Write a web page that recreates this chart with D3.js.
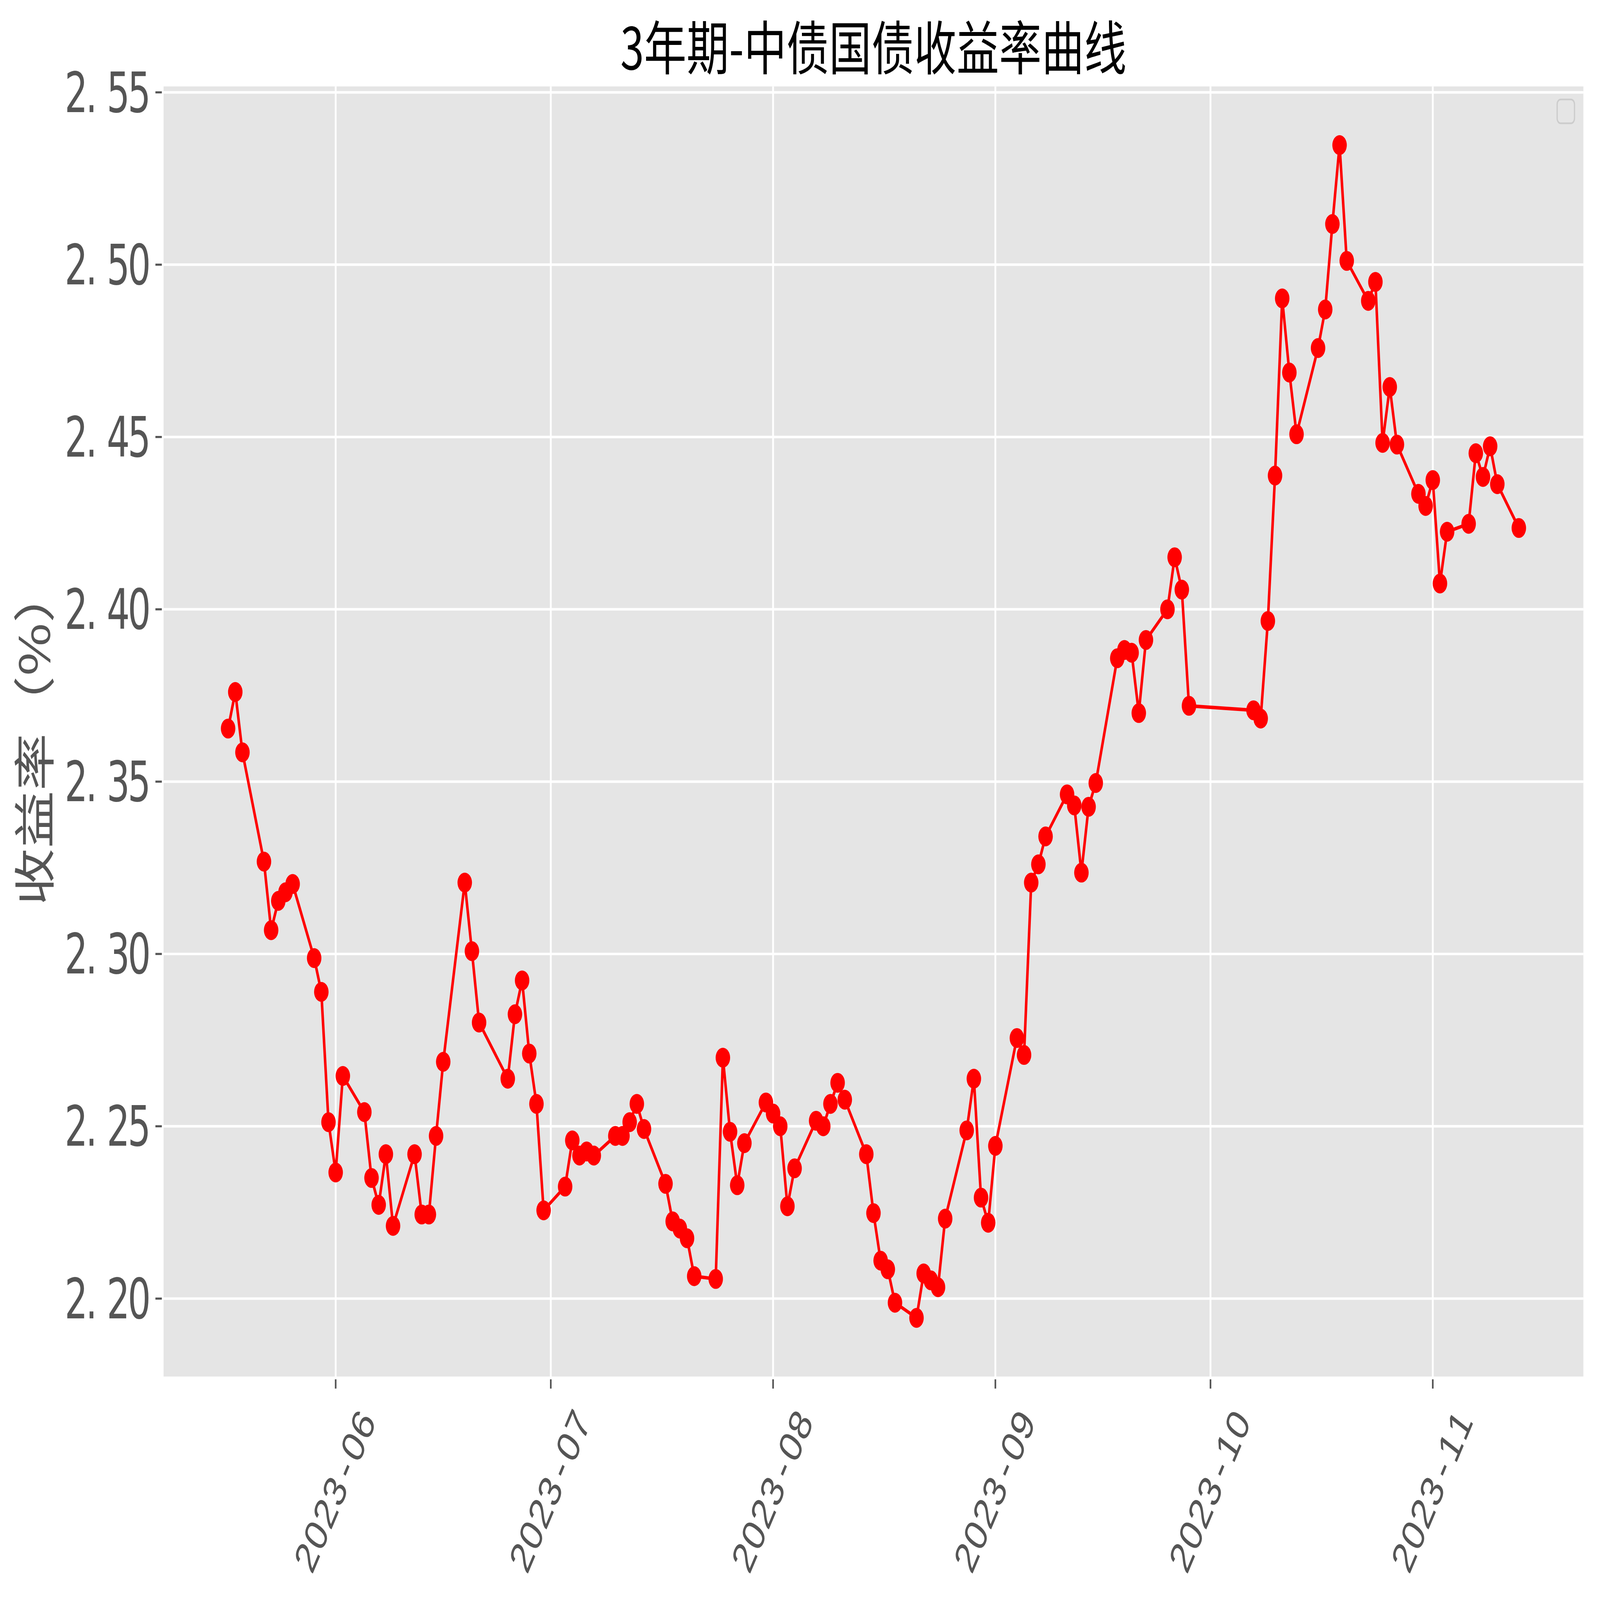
<!DOCTYPE html>
<html lang="zh">
<meta charset="utf-8">
<style>
html, body { margin: 0; padding: 0; width: 100%; height: 100%; background: #fff; overflow: hidden; }
#chart { width: 100%; height: 100%; }
#chart svg { display: block; width: 100%; height: 100%; }
.tick-label { font-family: "Liberation Sans Narrow", "DejaVu Sans Condensed", sans-serif; fill: #555555; }
.xlab { font-family: "Liberation Sans", "DejaVu Sans", sans-serif; fill: #555555; }
.cjk { font-family: "Noto Sans CJK SC", "Noto Sans", sans-serif; }
</style>
<body>
<div id="chart"></div>
<script src="https://d3js.org/d3.v7.min.js"></script>
<script>
"use strict";

// trading days, 2023 (incl. the 6-25 / 10-07 / 10-08 adjusted workdays)
const dates = [
  "2023-05-17","2023-05-18","2023-05-19","2023-05-22","2023-05-23","2023-05-24","2023-05-25","2023-05-26","2023-05-29","2023-05-30","2023-05-31",
  "2023-06-01","2023-06-02","2023-06-05","2023-06-06","2023-06-07","2023-06-08","2023-06-09","2023-06-12","2023-06-13","2023-06-14","2023-06-15","2023-06-16","2023-06-19","2023-06-20","2023-06-21","2023-06-25","2023-06-26","2023-06-27","2023-06-28","2023-06-29","2023-06-30",
  "2023-07-03","2023-07-04","2023-07-05","2023-07-06","2023-07-07","2023-07-10","2023-07-11","2023-07-12","2023-07-13","2023-07-14","2023-07-17","2023-07-18","2023-07-19","2023-07-20","2023-07-21","2023-07-24","2023-07-25","2023-07-26","2023-07-27","2023-07-28","2023-07-31",
  "2023-08-01","2023-08-02","2023-08-03","2023-08-04","2023-08-07","2023-08-08","2023-08-09","2023-08-10","2023-08-11","2023-08-14","2023-08-15","2023-08-16","2023-08-17","2023-08-18","2023-08-21","2023-08-22","2023-08-23","2023-08-24","2023-08-25","2023-08-28","2023-08-29","2023-08-30","2023-08-31",
  "2023-09-01","2023-09-04","2023-09-05","2023-09-06","2023-09-07","2023-09-08","2023-09-11","2023-09-12","2023-09-13","2023-09-14","2023-09-15","2023-09-18","2023-09-19","2023-09-20","2023-09-21","2023-09-22","2023-09-25","2023-09-26","2023-09-27","2023-09-28",
  "2023-10-07","2023-10-08","2023-10-09","2023-10-10","2023-10-11","2023-10-12","2023-10-13","2023-10-16","2023-10-17","2023-10-18","2023-10-19","2023-10-20","2023-10-23","2023-10-24","2023-10-25","2023-10-26","2023-10-27","2023-10-30","2023-10-31",
  "2023-11-01","2023-11-02","2023-11-03","2023-11-06","2023-11-07","2023-11-08","2023-11-09","2023-11-10","2023-11-13"
];

const yields = [
  2.3654, 2.3760, 2.3585, 2.3268, 2.3069, 2.3154, 2.3179, 2.3203, 2.2988, 2.2890, 2.2512,
  2.2366, 2.2646, 2.2541, 2.2350, 2.2272, 2.2419, 2.2211, 2.2419, 2.2244, 2.2244, 2.2472, 2.2687, 2.3207, 2.3008, 2.2801, 2.2638, 2.2825, 2.2923, 2.2711, 2.2565, 2.2256,
  2.2325, 2.2459, 2.2415, 2.2427, 2.2415, 2.2472, 2.2472, 2.2512, 2.2565, 2.2492, 2.2333, 2.2224, 2.2203, 2.2175, 2.2065, 2.2057, 2.2699, 2.2484, 2.2329, 2.2451, 2.2569,
  2.2537, 2.2500, 2.2268, 2.2378, 2.2516, 2.2500, 2.2565, 2.2626, 2.2577, 2.2419, 2.2248, 2.2110, 2.2085, 2.1988, 2.1944, 2.2073, 2.2053, 2.2033, 2.2232, 2.2488, 2.2638, 2.2293, 2.2220,
  2.2443, 2.2756, 2.2707, 2.3207, 2.3260, 2.3341, 2.3463, 2.3431, 2.3236, 2.3427, 2.3496, 2.3858, 2.3882, 2.3874, 2.3699, 2.3911, 2.4000, 2.4151, 2.4057, 2.3720,
  2.3707, 2.3683, 2.3966, 2.4388, 2.4902, 2.4687, 2.4508, 2.4758, 2.4870, 2.5118, 2.5347, 2.5011, 2.4895, 2.4950, 2.4483, 2.4645, 2.4478, 2.4335, 2.4300,
  2.4375, 2.4075, 2.4225, 2.4248, 2.4453, 2.4384, 2.4473, 2.4363, 2.4236
];

const monthTicks = ["2023-06-01","2023-07-01","2023-08-01","2023-09-01","2023-10-01","2023-11-01"];
const monthLabels = ["2023-06","2023-07","2023-08","2023-09","2023-10","2023-11"];
const yTicks = [2.20, 2.25, 2.30, 2.35, 2.40, 2.45, 2.50, 2.55];
const yTickLabels = ["2.20","2.25","2.30","2.35","2.40","2.45","2.50","2.55"];

const titleText = "3年期-中债国债收益率曲线";
const yAxisText = "收益率（%）";

// drawn in a 1568 x 1142 box, scaled to fill the window
const W = 1568, H = 1142;
const plot = {left: 160.3, right: 1551.7, top: 61.7, bottom: 982.5};

const parse = d3.timeParse("%Y-%m-%d");
const data = dates.map((d, i) => ({date: parse(d), value: yields[i]}));

const svg = d3.select("#chart").append("svg")
    .attr("viewBox", "0 0 " + W + " " + H)
    .attr("preserveAspectRatio", "none");

// matplotlib-like 5% margins
const tExt = d3.extent(data, d => d.date);
const tPad = (tExt[1] - tExt[0]) * 0.05;
const x = d3.scaleTime()
    .domain([new Date(+tExt[0] - tPad), new Date(+tExt[1] + tPad)])
    .range([plot.left, plot.right]);

const vExt = d3.extent(data, d => d.value);
const vPad = (vExt[1] - vExt[0]) * 0.05;
const y = d3.scaleLinear()
    .domain([vExt[0] - vPad, vExt[1] + vPad])
    .range([plot.bottom, plot.top]);

// background
svg.append("rect")
    .attr("x", plot.left).attr("y", plot.top)
    .attr("width", plot.right - plot.left)
    .attr("height", plot.bottom - plot.top)
    .attr("fill", "#E5E5E5");

// grid
const grid = svg.append("g").attr("stroke", "#ffffff").attr("stroke-width", 1.8);
grid.selectAll(".hg").data(yTicks).enter().append("line")
    .attr("x1", plot.left).attr("x2", plot.right)
    .attr("y1", d => y(d)).attr("y2", d => y(d));
grid.selectAll(".vg").data(monthTicks).enter().append("line")
    .attr("y1", plot.top).attr("y2", plot.bottom)
    .attr("x1", d => x(parse(d))).attr("x2", d => x(parse(d)));

// lay chars out in fixed half-width cells, like the original CJK font
function cellX(str, x0, cell, narrow) {
  return str.split("").map((c, k) => {
    let off = (c === "-") ? (cell - narrow) / 2 : 0;
    return (x0 + k * cell + off).toFixed(1);
  }).join(" ");
}

// y ticks + labels
const yCell = 20.6;
svg.append("g").selectAll("line").data(yTicks).enter().append("line")
    .attr("x1", plot.left - 8).attr("x2", plot.left - 1.7)
    .attr("y1", d => y(d)).attr("y2", d => y(d))
    .attr("stroke", "#555555").attr("stroke-width", 1.5);

svg.append("g").selectAll("text").data(yTicks).enter().append("text")
    .attr("class", "tick-label")
    .attr("font-size", 39.5)
    .attr("y", d => y(d) + 14)
    .attr("x", (d, i) => {
      const s = yTickLabels[i];
      return cellX(s, plot.left - 15.5 - s.length * yCell + 1, yCell, 0);
    })
    .text((d, i) => yTickLabels[i]);

// x ticks + rotated labels
const xCell = 18.2;
svg.append("g").selectAll("line").data(monthTicks).enter().append("line")
    .attr("x1", d => x(parse(d))).attr("x2", d => x(parse(d)))
    .attr("y1", plot.bottom + 2).attr("y2", plot.bottom + 8.6)
    .attr("stroke", "#555555").attr("stroke-width", 1.6);

svg.append("g").selectAll("text").data(monthTicks).enter().append("text")
    .attr("class", "xlab")
    .attr("font-size", 31.4)
    .attr("transform", d => "translate(" + (x(parse(d)) - 1.5) + ",1064.6) rotate(-60)")
    .attr("y", 11.2)
    .attr("x", (d, i) => {
      const s = monthLabels[i];
      return cellX(s, -s.length * xCell / 2 + 1, xCell, 31.4 * 0.333);
    })
    .text((d, i) => monthLabels[i]);

// series
const line = d3.line().x(d => x(d.date)).y(d => y(d.value));
svg.append("path")
    .datum(data)
    .attr("d", line)
    .attr("fill", "none")
    .attr("stroke", "#ff0000")
    .attr("stroke-width", 2.5)
    .attr("stroke-linejoin", "round");

svg.append("g").selectAll("circle").data(data).enter().append("circle")
    .attr("cx", d => x(d.date))
    .attr("cy", d => y(d.value))
    .attr("r", 7.1)
    .attr("fill", "#ff0000");

// empty legend frame (top right)
svg.append("rect")
    .attr("x", 1526).attr("y", 71)
    .attr("width", 17).attr("height", 17)
    .attr("rx", 3.5)
    .attr("fill", "#E5E5E5")
    .attr("stroke", "#cccccc")
    .attr("stroke-width", 1.2);

// title
svg.append("text")
    .attr("class", "cjk")
    .attr("x", (plot.left + plot.right) / 2)
    .attr("y", 49.7)
    .attr("text-anchor", "middle")
    .attr("font-size", 41.5)
    .attr("textLength", 496)
    .attr("lengthAdjust", "spacing")
    .attr("fill", "#000000")
    .text(titleText);

// y axis label
svg.append("text")
    .attr("class", "cjk")
    .attr("transform", "translate(49,525) rotate(-90)")
    .attr("text-anchor", "middle")
    .attr("font-size", 41)
    .attr("fill", "#555555")
    .text(yAxisText);

</script>
</body>
</html>
